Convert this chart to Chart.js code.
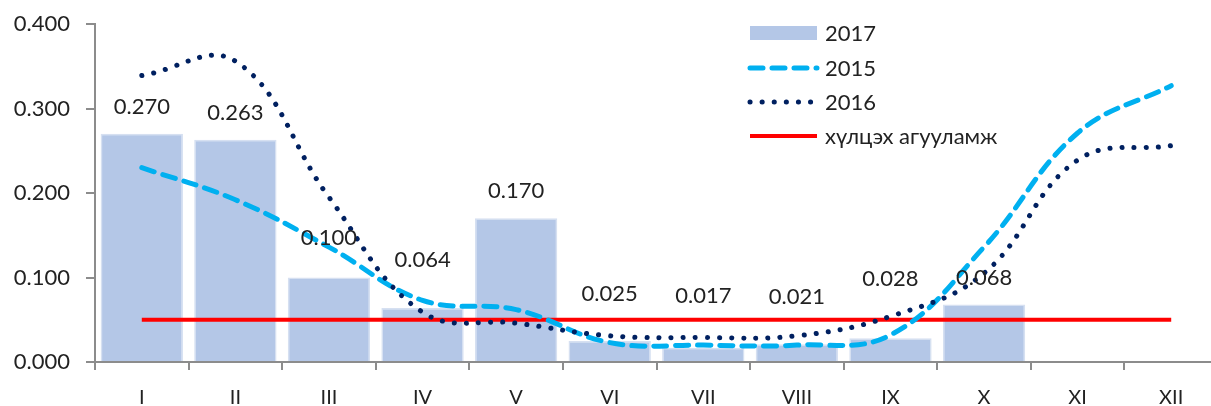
<!DOCTYPE html>
<html>
<head>
<meta charset="utf-8">
<script src="https://cdn.jsdelivr.net/npm/chart.js@4"></script>
<style>
  html, body { margin: 0; padding: 0; background: #fff; overflow: hidden; }
  #wrap { width: 1218px; height: 406px; }
</style>
</head>
<body>
<div id="wrap"><canvas id="chart" width="1218" height="406"></canvas></div>
<script>
const months = ["I", "II", "III", "IV", "V", "VI", "VII", "VIII", "IX", "X", "XI", "XII"];
const values2017 = [0.270, 0.263, 0.100, 0.064, 0.170, 0.025, 0.017, 0.021, 0.028, 0.068, null, null];
const values2015 = [0.230, 0.192, 0.136, 0.073, 0.062, 0.023, 0.020, 0.020, 0.032, 0.136, 0.271, 0.327];
const values2016 = [0.339, 0.356, 0.195, 0.059, 0.046, 0.031, 0.029, 0.031, 0.054, 0.105, 0.239, 0.256];
const limitValues = [0.05, 0.05, 0.05, 0.05, 0.05, 0.05, 0.05, 0.05, 0.05, 0.05, 0.05, 0.05];
const yTicks = [0, 0.1, 0.2, 0.3, 0.4];

const FONT = "Lato, 'Open Sans', sans-serif";
const TEXT = "#222222";

// label lift above bar top (px), labels were hand placed in the original
const labelLift = [27, 27, 40, 48, 27, 47, 52, 47, 59, 27];

const barLabels = {
  id: "barLabels",
  afterDatasetsDraw(chart) {
    const ctx = chart.ctx;
    const meta = chart.getDatasetMeta(0);
    ctx.save();
    ctx.font = "22px " + FONT;
    ctx.fillStyle = TEXT;
    ctx.textAlign = "center";
    ctx.textBaseline = "middle";
    meta.data.forEach((bar, i) => {
      const v = values2017[i];
      if (v == null) return;
      ctx.fillText(v.toFixed(3), bar.x, bar.y - (labelLift[i] || 27));
    });
    ctx.restore();
  }
};

const boxLegend = {
  id: "boxLegend",
  afterDraw(chart) {
    const ctx = chart.ctx;
    const rows = [33, 68, 102, 136];
    ctx.save();
    chart.data.datasets.forEach((ds, i) => {
      const y = rows[i];
      if (ds.type === "bar") {
        ctx.fillStyle = ds.backgroundColor;
        ctx.fillRect(750, y - 7, 67, 14);
      } else {
        ctx.beginPath();
        ctx.strokeStyle = ds.borderColor;
        ctx.lineWidth = ds.borderWidth;
        ctx.lineCap = ds.borderCapStyle || "butt";
        ctx.setLineDash(ds.borderDash || []);
        ctx.moveTo(750, y);
        ctx.lineTo(817, y);
        ctx.stroke();
        ctx.setLineDash([]);
      }
      ctx.font = "22px " + FONT;
      ctx.fillStyle = TEXT;
      ctx.textAlign = "left";
      ctx.textBaseline = "middle";
      ctx.fillText(ds.label, 825, y + 1);
    });
    ctx.restore();
  }
};

new Chart(document.getElementById("chart"), {
  data: {
    labels: months,
    datasets: [
      {
        type: "bar",
        label: "2017",
        data: values2017,
        backgroundColor: "#B4C7E7",
        borderColor: "#D6E0F1",
        borderWidth: 1.5,
        categoryPercentage: 1,
        barPercentage: 0.88,
        order: 4
      },
      {
        type: "line",
        label: "2015",
        data: values2015,
        borderColor: "#00B0F0",
        borderWidth: 5,
        borderDash: [13, 9],
        borderCapStyle: "round",
        tension: 0.4,
        pointRadius: 0,
        fill: false,
        order: 2
      },
      {
        type: "line",
        label: "2016",
        data: values2016,
        borderColor: "#002060",
        borderWidth: 5,
        borderDash: [0.1, 12],
        borderCapStyle: "round",
        tension: 0.4,
        pointRadius: 0,
        fill: false,
        order: 1
      },
      {
        type: "line",
        label: "хүлцэх агууламж",
        data: limitValues,
        borderColor: "#FF0000",
        borderWidth: 4,
        pointRadius: 0,
        fill: false,
        order: 3
      }
    ]
  },
  options: {
    responsive: false,
    animation: false,
    layout: { padding: { top: 24, left: 0, right: 0, bottom: 0 } },
    plugins: {
      legend: { display: false },
      tooltip: { enabled: false }
    },
    scales: {
      x: {
        offset: true,
        grid: {
          offset: true,
          drawOnChartArea: false,
          drawTicks: true,
          tickLength: 8,
          color: "#8C8C8C",
          lineWidth: 2
        },
        border: { display: true, color: "#8C8C8C", width: 2 },
        ticks: {
          color: TEXT,
          font: { family: FONT, size: 20 },
          padding: 16
        },
        afterFit(scale) { scale.height = 44; }
      },
      y: {
        min: 0,
        max: 0.4,
        afterBuildTicks(scale) { scale.ticks = yTicks.map(v => ({ value: v })); },
        grid: {
          drawOnChartArea: false,
          drawTicks: true,
          tickLength: 9,
          color: "#8C8C8C",
          lineWidth: 2
        },
        border: { display: true, color: "#8C8C8C", width: 2 },
        ticks: {
          color: TEXT,
          font: { family: FONT, size: 22, lineHeight: 0.6 },
          padding: 16,
          callback: v => Number(v).toFixed(3)
        },
        afterFit(scale) { scale.width = 95; }
      }
    }
  },
  plugins: [barLabels, boxLegend]
});
</script>
</body>
</html>
